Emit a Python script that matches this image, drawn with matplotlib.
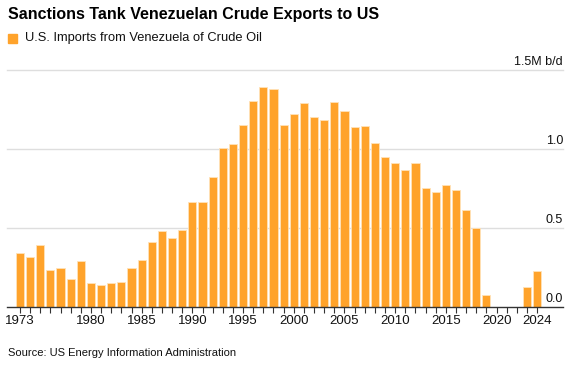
import matplotlib.pyplot as plt
from matplotlib.patches import Rectangle

plt.rcParams['font.family'] = ['Liberation Sans', 'DejaVu Sans']

# U.S. imports of crude oil from Venezuela, million barrels per day
years = list(range(1973, 2025))
imports = [0.34, 0.315, 0.39, 0.236, 0.245, 0.175, 0.289, 0.15, 0.141, 0.15,
           0.158, 0.247, 0.30, 0.41, 0.483, 0.435, 0.49, 0.662, 0.662, 0.823,
           1.008, 1.03, 1.15, 1.304, 1.394, 1.378, 1.15, 1.224, 1.291, 1.20,
           1.183, 1.295, 1.238, 1.141, 1.146, 1.038, 0.949, 0.909, 0.865, 0.909,
           0.753, 0.73, 0.772, 0.738, 0.614, 0.502, 0.076, 0.0, 0.0, 0.0,
           0.127, 0.226]
tick_years = [1973, 1980, 1985, 1990, 1995, 2000, 2005, 2010, 2015, 2020, 2024]
y_ticks = [0.0, 0.5, 1.0, 1.5]
y_labels = ['0.0', '0.5', '1.0', '1.5M b/d']

W, H = 578, 367
fig = plt.figure(figsize=(W / 100, H / 100), dpi=100)
ax = fig.add_axes([7 / W, (H - 307) / H, (563 - 7) / W, (307 - 70) / H])

bar_color = '#ffa32b'
ax.bar(years, imports, width=0.8, color=bar_color, edgecolor='#ffe2b8',
       linewidth=0.6, zorder=2)

ax.set_xlim(1971.72, 2026.55)
ax.set_ylim(0, 1.5)

# gridlines and labels sitting just above them
for v, lab in zip(y_ticks, y_labels):
    if v > 0:
        ax.axhline(v, color='#dedede', linewidth=1.0, zorder=1, clip_on=False)
    ax.annotate(lab, xy=(1.0, v), xycoords=('axes fraction', 'data'),
                xytext=(0, 1.5), textcoords='offset points',
                ha='right', va='bottom', fontsize=9, color='#111111')

ax.set_yticks([])
for s in ['left', 'right', 'top']:
    ax.spines[s].set_visible(False)
ax.spines['bottom'].set_color('#333333')
ax.spines['bottom'].set_linewidth(1.0)

ax.set_xticks(tick_years)
ax.set_xticklabels([str(y) for y in tick_years], fontsize=9.5, color='#111111')
ax.set_xticks(years, minor=True)
ax.tick_params(axis='x', which='both', length=4, width=0.8, color='#333333', pad=2)

# title, legend, source
fig.text(8 / W, 1 - 15 / H, 'Sanctions Tank Venezuelan Crude Exports to US',
         fontsize=11.5, fontweight='bold', ha='left', va='center', color='#000000')
fig.patches.append(Rectangle((8 / W, 1 - 43 / H), 9 / W, 9 / H,
                             transform=fig.transFigure, color=bar_color))
fig.text(25 / W, 1 - 38.5 / H, 'U.S. Imports from Venezuela of Crude Oil',
         fontsize=9.3, ha='left', va='center', color='#111111')
fig.text(8 / W, 1 - 353 / H, 'Source: US Energy Information Administration',
         fontsize=8, ha='left', va='center', color='#111111')

fig.savefig('out.png', dpi=100)
